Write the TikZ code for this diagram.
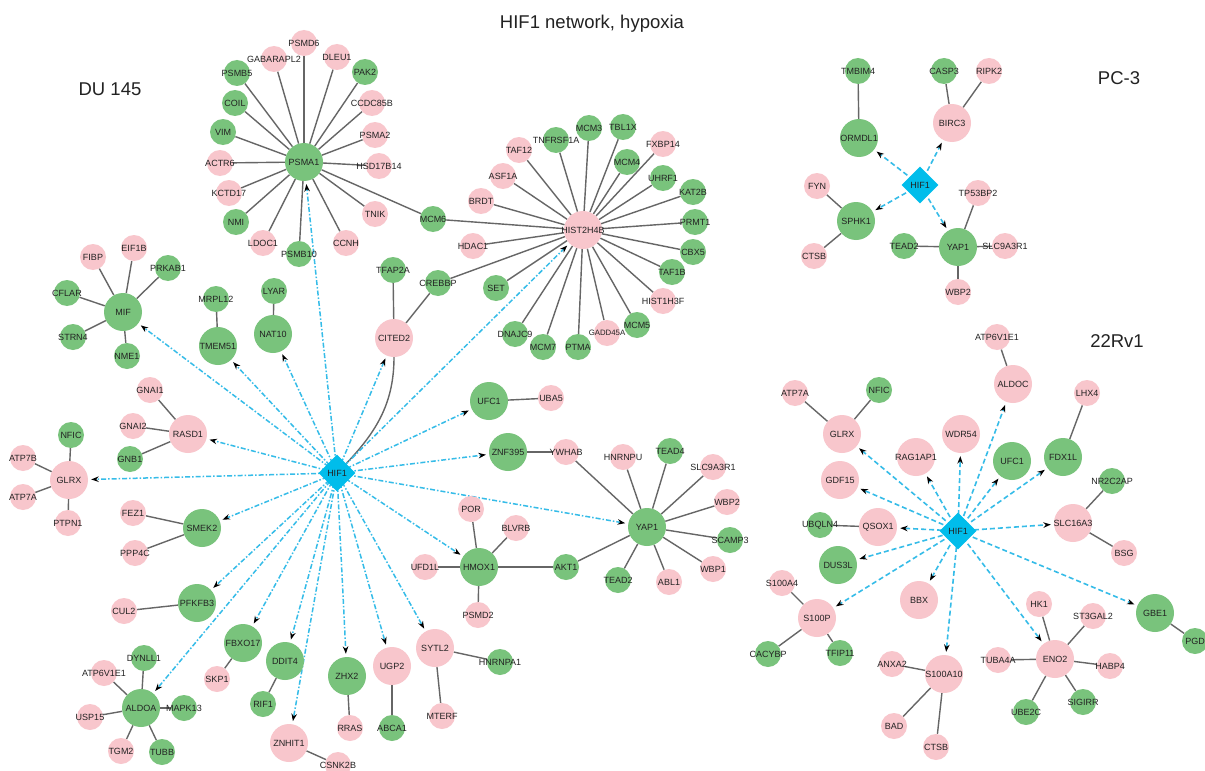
\documentclass[tikz,border=0pt]{standalone}
\usepackage{fontspec}
\setmainfont{Liberation Sans}
\usetikzlibrary{shapes.geometric,arrows.meta,backgrounds}
\definecolor{pk}{HTML}{F8C6CC}
\definecolor{gr}{HTML}{79C37C}
\definecolor{cy}{HTML}{00BDEB}
\definecolor{ln}{HTML}{666666}
\definecolor{ar}{HTML}{35BCE8}
\definecolor{tx}{HTML}{222222}
\newcommand\nd[5]{\node[#1] (#2) at (#3,#4) {\makebox[0pt]{#5}};}
\begin{document}
\begin{tikzpicture}[x=1bp,y=-1bp,
 base/.style={circle,inner sep=0pt,text=tx,font=\fontsize{9bp}{10bp}\selectfont},
 pS/.style={base,fill=pk,minimum size=26bp},
 gS/.style={base,fill=gr,minimum size=26bp},
 pL/.style={base,fill=pk,minimum size=38bp},
 gL/.style={base,fill=gr,minimum size=38bp},
 hif/.style={diamond,aspect=1,fill=cy,inner sep=0pt,minimum size=37bp,text=tx,font=\fontsize{9bp}{10bp}\selectfont},
 edge/.style={draw=ln,line width=1.4bp},
 tipk/.style={-{Stealth[length=7.5bp,width=5.5bp,color=black,fill=black]}},
 arrA/.style={draw=ar,line width=1.5bp,dash pattern=on 5bp off 2bp on 1.5bp off 2bp,tipk,shorten >=3bp},
 arrB/.style={draw=ar,line width=1.6bp,dash pattern=on 5bp off 3bp,tipk,shorten >=3bp},
 ttl/.style={text=tx,font=\fontsize{18.5bp}{20bp}\selectfont}]
\useasboundingbox (0,0) rectangle (1205,771);

\node[ttl] (title) at (592,24) {HIF1 network, hypoxia};
\node[ttl] (du) at (110,89) {DU 145};
\node[ttl] (pc) at (1119,78) {PC-3};
\node[ttl] (rv) at (1117,341) {22Rv1};

% ---------------- DU 145 ----------------
\node[hif] (aHIF1) at (337,473) {\makebox[0pt]{HIF1}};
\nd{pL}{aHIST2H4B}{583}{230}{HIST2H4B}
\nd{pL}{aCITED2}{394}{338}{CITED2}
\nd{pL}{aRASD1}{188}{434}{RASD1}
\nd{pL}{aGLRX}{69}{480}{GLRX}
\nd{pL}{aUGP2}{392}{666}{UGP2}
\nd{pL}{aZNHIT1}{289}{743}{ZNHIT1}
\nd{pL}{aSYTL2}{435}{648}{SYTL2}
\nd{gL}{aPSMA1}{304}{162}{PSMA1}
\nd{gL}{aMIF}{123}{312}{MIF}
\nd{gL}{aTMEM51}{218}{346}{TMEM51}
\nd{gL}{aNAT10}{273}{334}{NAT10}
\nd{gL}{aUFC1}{489}{401}{UFC1}
\nd{gL}{aZNF395}{508}{452}{ZNF395}
\nd{gL}{aYAP1}{647}{527}{YAP1}
\nd{gL}{aHMOX1}{479}{567}{HMOX1}
\nd{gL}{aSMEK2}{202}{528}{SMEK2}
\nd{gL}{aPFKFB3}{197}{603}{PFKFB3}
\nd{gL}{aALDOA}{141}{708}{ALDOA}
\nd{gL}{aFBXO17}{243}{643}{FBXO17}
\nd{gL}{aDDIT4}{285}{661}{DDIT4}
\nd{gL}{aZHX2}{347}{676}{ZHX2}
% PSMA1 neighbours
\nd{pS}{aPSMD6}{304}{43}{PSMD6}
\nd{pS}{aGABARAPL2}{274}{59}{GABARAPL2}
\nd{pS}{aDLEU1}{337}{57}{DLEU1}
\nd{gS}{aPAK2}{365}{72}{PAK2}
\nd{gS}{aPSMB5}{237}{73}{PSMB5}
\nd{gS}{aCOIL}{235}{103}{COIL}
\nd{pS}{aCCDC85B}{372}{103}{CCDC85B}
\nd{gS}{aVIM}{223}{132}{VIM}
\nd{pS}{aPSMA2}{375}{135}{PSMA2}
\nd{pS}{aACTR6}{220}{163}{ACTR6}
\nd{pS}{aHSD17B14}{379}{166}{HSD17B14}
\nd{pS}{aKCTD17}{229}{193}{KCTD17}
\nd{pS}{aTNIK}{375}{214}{TNIK}
\nd{gS}{aNMI}{236}{222}{NMI}
\nd{pS}{aLDOC1}{263}{243}{LDOC1}
\nd{pS}{aCCNH}{346}{243}{CCNH}
\nd{gS}{aPSMB10}{299}{254}{PSMB10}
\nd{gS}{aMCM6}{433}{219}{MCM6}
% HIST2H4B neighbours
\nd{pS}{aTAF12}{519}{150}{TAF12}
\nd{gS}{aTNFRSF1A}{556}{140}{TNFRSF1A}
\nd{gS}{aMCM3}{589}{128}{MCM3}
\nd{gS}{aTBL1X}{623}{127}{TBL1X}
\nd{pS}{aFXBP14}{663}{144}{FXBP14}
\nd{gS}{aMCM4}{627}{162}{MCM4}
\nd{pS}{aASF1A}{503}{176}{ASF1A}
\nd{gS}{aUHRF1}{663}{178}{UHRF1}
\nd{gS}{aKAT2B}{693}{192}{KAT2B}
\nd{pS}{aBRDT}{481}{201}{BRDT}
\nd{gS}{aPRMT1}{695}{222}{PRMT1}
\nd{pS}{aHDAC1}{473}{246}{HDAC1}
\nd{gS}{aCBX5}{693}{252}{CBX5}
\nd{gS}{aTAF1B}{672}{272}{TAF1B}
\nd{pS}{aHIST1H3F}{663}{301}{HIST1H3F}
\nd{gS}{aMCM5}{637}{325}{MCM5}
\node[pS,font=\fontsize{7.8bp}{9bp}\selectfont] (aGADD45A) at (607,333) {\makebox[0pt]{GADD45A}};
\nd{gS}{aPTMA}{578}{347}{PTMA}
\nd{gS}{aMCM7}{543}{347}{MCM7}
\nd{gS}{aDNAJC9}{515}{334}{DNAJC9}
\nd{gS}{aSET}{496}{288}{SET}
\nd{gS}{aCREBBP}{438}{283}{CREBBP}
\nd{gS}{aTFAP2A}{393}{270}{TFAP2A}
% others
\nd{gS}{aLYAR}{274}{291}{LYAR}
\nd{gS}{aMRPL12}{216}{299}{MRPL12}
\nd{pS}{aFIBP}{93}{257}{FIBP}
\nd{pS}{aEIF1B}{134}{248}{EIF1B}
\nd{gS}{aPRKAB1}{168}{268}{PRKAB1}
\nd{gS}{aCFLAR}{67}{293}{CFLAR}
\nd{gS}{aSTRN4}{73}{337}{STRN4}
\nd{gS}{aNME1}{127}{356}{NME1}
\nd{pS}{aGNAI1}{150}{390}{GNAI1}
\nd{pS}{aGNAI2}{133}{426}{GNAI2}
\nd{gS}{aGNB1}{130}{459}{GNB1}
\nd{gS}{aNFIC}{71}{435}{NFIC}
\nd{pS}{aATP7B}{23}{458}{ATP7B}
\nd{pS}{aATP7A}{23}{497}{ATP7A}
\nd{pS}{aPTPN1}{68}{523}{PTPN1}
\nd{pS}{aFEZ1}{133}{513}{FEZ1}
\nd{pS}{aPPP4C}{135}{553}{PPP4C}
\nd{pS}{aCUL2}{124}{611}{CUL2}
\nd{gS}{aDYNLL1}{144}{658}{DYNLL1}
\nd{pS}{aATP6V1E1}{104}{673}{ATP6V1E1}
\nd{gS}{aMAPK13}{184}{708}{MAPK13}
\nd{pS}{aUSP15}{90}{717}{USP15}
\nd{pS}{aTGM2}{121}{751}{TGM2}
\nd{gS}{aTUBB}{162}{752}{TUBB}
\nd{pS}{aSKP1}{217}{679}{SKP1}
\nd{gS}{aRIF1}{263}{704}{RIF1}
\nd{pS}{aRRAS}{350}{728}{RRAS}
\nd{gS}{aABCA1}{392}{728}{ABCA1}
\nd{pS}{aCSNK2B}{338}{765}{CSNK2B}
\nd{gS}{aHNRNPA1}{500}{662}{HNRNPA1}
\nd{pS}{aMTERF}{442}{716}{MTERF}
\nd{pS}{aPOR}{471}{509}{POR}
\nd{pS}{aBLVRB}{516}{528}{BLVRB}
\nd{pS}{aUFD1L}{425}{567}{UFD1L}
\nd{pS}{aPSMD2}{478}{615}{PSMD2}
\nd{gS}{aAKT1}{566}{567}{AKT1}
\nd{pS}{aUBA5}{551}{398}{UBA5}
\nd{pS}{aYWHAB}{566}{452}{YWHAB}
\nd{pS}{aHNRNPU}{623}{457}{HNRNPU}
\nd{gS}{aTEAD4}{670}{451}{TEAD4}
\nd{pS}{aSLC9A3R1}{713}{467}{SLC9A3R1}
\nd{pS}{aWBP2}{727}{502}{WBP2}
\nd{gS}{aSCAMP3}{730}{540}{SCAMP3}
\nd{pS}{aWBP1}{713}{569}{WBP1}
\nd{pS}{aABL1}{669}{582}{ABL1}
\nd{gS}{aTEAD2}{618}{580}{TEAD2}

% ---------------- PC-3 ----------------
\node[hif] (bHIF1) at (920,185) {\makebox[0pt]{HIF1}};
\nd{gL}{bORMDL1}{859}{138}{ORMDL1}
\nd{pL}{bBIRC3}{952}{123}{BIRC3}
\nd{gL}{bSPHK1}{856}{221}{SPHK1}
\nd{gL}{bYAP1}{958}{247}{YAP1}
\nd{gS}{bTMBIM4}{858}{71}{TMBIM4}
\nd{gS}{bCASP3}{944}{71}{CASP3}
\nd{pS}{bRIPK2}{989}{71}{RIPK2}
\nd{pS}{bFYN}{817}{186}{FYN}
\nd{pS}{bCTSB}{814}{256}{CTSB}
\nd{gS}{bTEAD2}{904}{246}{TEAD2}
\nd{pS}{bTP53BP2}{978}{193}{TP53BP2}
\nd{pS}{bSLC9A3R1}{1005}{246}{SLC9A3R1}
\nd{pS}{bWBP2}{958}{292}{WBP2}

% ---------------- 22Rv1 ----------------
\node[hif] (cHIF1) at (958,531) {\makebox[0pt]{HIF1}};
\nd{pL}{cALDOC}{1013}{384}{ALDOC}
\nd{pL}{cGLRX}{842}{434}{GLRX}
\nd{pL}{cWDR54}{961}{434}{WDR54}
\nd{pL}{cRAG1AP1}{916}{457}{RAG1AP1}
\nd{pL}{cGDF15}{840}{480}{GDF15}
\nd{pL}{cQSOX1}{878}{527}{QSOX1}
\nd{pL}{cSLC16A3}{1073}{523}{SLC16A3}
\nd{pL}{cBBX}{919}{600}{BBX}
\nd{pL}{cS100P}{817}{618}{S100P}
\nd{pL}{cS100A10}{944}{674}{S100A10}
\nd{pL}{cENO2}{1055}{659}{ENO2}
\nd{gL}{cUFC1}{1012}{461}{UFC1}
\nd{gL}{cFDX1L}{1063}{457}{FDX1L}
\nd{gL}{cDUS3L}{838}{565}{DUS3L}
\nd{gL}{cGBE1}{1155}{613}{GBE1}
\nd{pS}{cATP6V1E1}{997}{337}{ATP6V1E1}
\nd{pS}{cLHX4}{1087}{393}{LHX4}
\nd{pS}{cATP7A}{795}{393}{ATP7A}
\nd{pS}{cBSG}{1124}{553}{BSG}
\nd{pS}{cS100A4}{782}{583}{S100A4}
\nd{pS}{cHK1}{1039}{604}{HK1}
\nd{pS}{cST3GAL2}{1093}{616}{ST3GAL2}
\nd{pS}{cANXA2}{892}{664}{ANXA2}
\nd{pS}{cTUBA4A}{998}{660}{TUBA4A}
\nd{pS}{cHABP4}{1110}{666}{HABP4}
\nd{pS}{cBAD}{894}{726}{BAD}
\nd{pS}{cCTSB}{936}{747}{CTSB}
\nd{gS}{cNFIC}{879}{390}{NFIC}
\nd{gS}{cNR2C2AP}{1112}{481}{NR2C2AP}
\nd{gS}{cUBQLN4}{820}{525}{UBQLN4}
\nd{gS}{cCACYBP}{768}{654}{CACYBP}
\nd{gS}{cTFIP11}{840}{653}{TFIP11}
\nd{gS}{cUBE2C}{1026}{712}{UBE2C}
\nd{gS}{cSIGIRR}{1083}{702}{SIGIRR}
\nd{gS}{cPGD}{1195}{641}{PGD}

\begin{scope}[on background layer]
\fill[white] (0,0) rectangle (1205,771);
\foreach \a/\b in {
 aPSMA1/aPSMD6,aPSMA1/aGABARAPL2,aPSMA1/aDLEU1,aPSMA1/aPAK2,aPSMA1/aPSMB5,aPSMA1/aCOIL,
 aPSMA1/aCCDC85B,aPSMA1/aVIM,aPSMA1/aPSMA2,aPSMA1/aACTR6,aPSMA1/aHSD17B14,aPSMA1/aKCTD17,
 aPSMA1/aTNIK,aPSMA1/aNMI,aPSMA1/aLDOC1,aPSMA1/aCCNH,aPSMA1/aPSMB10,aPSMA1/aMCM6,
 aHIST2H4B/aMCM6,aHIST2H4B/aTAF12,aHIST2H4B/aTNFRSF1A,aHIST2H4B/aMCM3,aHIST2H4B/aTBL1X,
 aHIST2H4B/aFXBP14,aHIST2H4B/aMCM4,aHIST2H4B/aASF1A,aHIST2H4B/aUHRF1,aHIST2H4B/aKAT2B,
 aHIST2H4B/aBRDT,aHIST2H4B/aPRMT1,aHIST2H4B/aHDAC1,aHIST2H4B/aCBX5,aHIST2H4B/aTAF1B,
 aHIST2H4B/aHIST1H3F,aHIST2H4B/aMCM5,aHIST2H4B/aGADD45A,aHIST2H4B/aPTMA,aHIST2H4B/aMCM7,
 aHIST2H4B/aDNAJC9,aHIST2H4B/aSET,aHIST2H4B/aCREBBP,
 aCITED2/aTFAP2A,aCITED2/aCREBBP,
 aMIF/aFIBP,aMIF/aEIF1B,aMIF/aPRKAB1,aMIF/aCFLAR,aMIF/aSTRN4,aMIF/aNME1,
 aTMEM51/aMRPL12,aNAT10/aLYAR,
 aRASD1/aGNAI1,aRASD1/aGNAI2,aRASD1/aGNB1,
 aGLRX/aNFIC,aGLRX/aATP7B,aGLRX/aATP7A,aGLRX/aPTPN1,
 aSMEK2/aFEZ1,aSMEK2/aPPP4C,aPFKFB3/aCUL2,
 aALDOA/aDYNLL1,aALDOA/aATP6V1E1,aALDOA/aUSP15,aALDOA/aTGM2,aALDOA/aTUBB,aALDOA/aMAPK13,
 aFBXO17/aSKP1,aDDIT4/aRIF1,aZHX2/aRRAS,aUGP2/aABCA1,aZNHIT1/aCSNK2B,
 aSYTL2/aHNRNPA1,aSYTL2/aMTERF,
 aHMOX1/aPOR,aHMOX1/aBLVRB,aHMOX1/aUFD1L,aHMOX1/aPSMD2,aHMOX1/aAKT1,aAKT1/aYAP1,
 aYAP1/aYWHAB,aYAP1/aHNRNPU,aYAP1/aTEAD4,aYAP1/aSLC9A3R1,aYAP1/aWBP2,aYAP1/aSCAMP3,
 aYAP1/aWBP1,aYAP1/aABL1,aYAP1/aTEAD2,aZNF395/aYWHAB,aUFC1/aUBA5,
 bORMDL1/bTMBIM4,bBIRC3/bCASP3,bBIRC3/bRIPK2,bSPHK1/bFYN,bSPHK1/bCTSB,
 bYAP1/bTEAD2,bYAP1/bTP53BP2,bYAP1/bSLC9A3R1,bYAP1/bWBP2,
 cALDOC/cATP6V1E1,cFDX1L/cLHX4,cGLRX/cATP7A,cGLRX/cNFIC,cSLC16A3/cNR2C2AP,cSLC16A3/cBSG,
 cQSOX1/cUBQLN4,cS100P/cS100A4,cS100P/cCACYBP,cS100P/cTFIP11,
 cS100A10/cANXA2,cS100A10/cBAD,cS100A10/cCTSB,
 cENO2/cHK1,cENO2/cST3GAL2,cENO2/cTUBA4A,cENO2/cHABP4,cENO2/cUBE2C,cENO2/cSIGIRR,cGBE1/cPGD}
 \draw[edge] (\a) -- (\b);
\draw[edge] (aHIF1.center) to[out=45,in=-90] (aCITED2);
\foreach \t in {aPSMA1,aHIST2H4B,aMIF,aTMEM51,aNAT10,aCITED2,aUFC1,aZNF395,aYAP1,aRASD1,
 aGLRX,aSMEK2,aPFKFB3,aALDOA,aFBXO17,aDDIT4,aZNHIT1,aZHX2,aUGP2,aSYTL2,aHMOX1}
 \draw[arrA] (aHIF1.center) -- (\t);
\foreach \t in {bORMDL1,bBIRC3,bSPHK1,bYAP1}
 \draw[arrB] (bHIF1.center) -- (\t);
\foreach \t in {cGLRX,cRAG1AP1,cWDR54,cALDOC,cUFC1,cFDX1L,cGDF15,cQSOX1,cSLC16A3,cDUS3L,
 cBBX,cS100P,cS100A10,cENO2,cGBE1}
 \draw[arrB] (cHIF1.center) -- (\t);
\end{scope}
\end{tikzpicture}
\end{document}
